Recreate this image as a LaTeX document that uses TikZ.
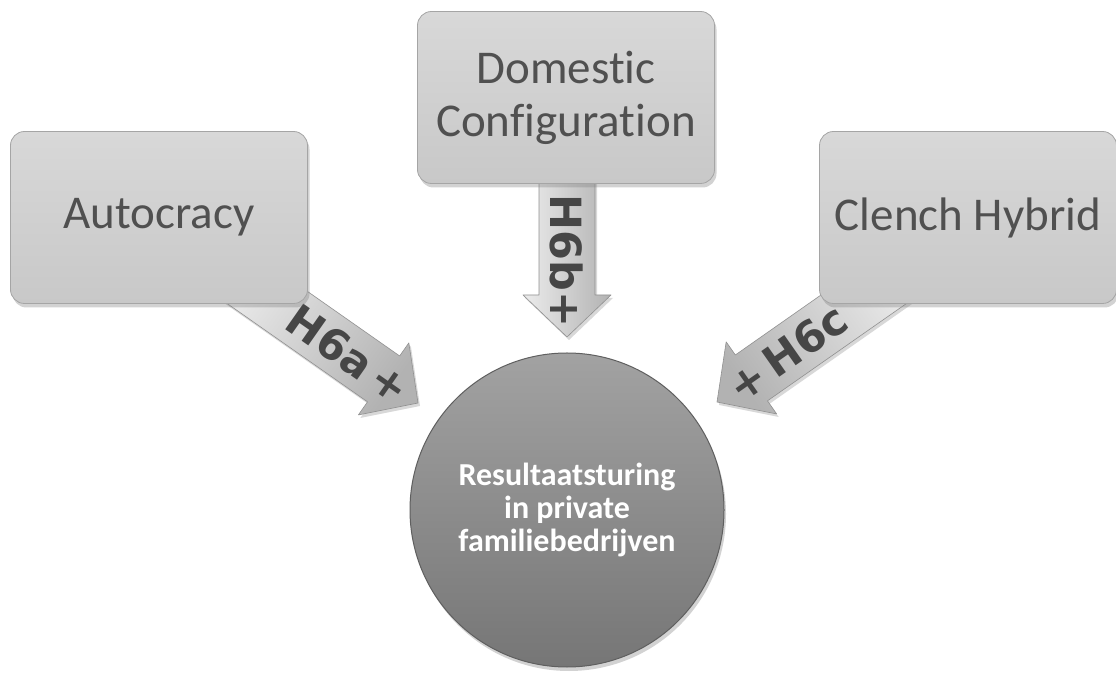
\documentclass[tikz,border=0pt]{standalone}
\usepackage{fontspec}
\setmainfont{Carlito}[Ligatures={NoCommon,NoContextual}]
\newfontfamily\lblfont{DejaVu Sans}
\usetikzlibrary{shadows}
\definecolor{txtgray}{RGB}{80,80,80}
\definecolor{lblgray}{RGB}{70,70,70}
\definecolor{boxtop}{RGB}{216,216,216}
\definecolor{boxbot}{RGB}{200,200,200}
\definecolor{boxedge}{RGB}{165,165,165}
\definecolor{circtop}{RGB}{162,162,162}
\definecolor{circbot}{RGB}{118,118,118}
\definecolor{circedge}{RGB}{95,95,95}
\definecolor{arrlight}{RGB}{236,236,236}
\definecolor{arrdark}{RGB}{178,178,178}
\definecolor{arredge}{RGB}{145,145,145}
\newcommand{\blkarrow}[7]{%
  \begin{scope}[shift={(#1)}, rotate=#2]
    \path[blockarrow, shading angle=#7]
      (-#3,28) -- (-42,28) -- (-42,44) -- (0,0) -- (-42,-44) -- (-42,-28) -- (-#3,-28) -- cycle;
    \node[arrowlabel, rotate=#6] at (-#5,0) {#4};
  \end{scope}}
\begin{document}
\begin{tikzpicture}[x=1pt,y=1pt,
  textbox/.style={rectangle, rounded corners=14pt, minimum width=297pt, minimum height=172pt,
    top color=boxtop, bottom color=boxbot, draw=boxedge, line width=0.8pt,
    drop shadow={opacity=0.35, shadow xshift=2pt, shadow yshift=-4pt},
    font=\fontsize{47}{53}\selectfont, text=txtgray, align=center, inner sep=0pt},
  target/.style={circle, minimum size=314pt, inner sep=0pt,
    top color=circtop, bottom color=circbot, draw=circedge, line width=1pt,
    drop shadow={opacity=0.35, shadow xshift=2pt, shadow yshift=-4pt},
    font=\bfseries\fontsize{32}{33}\selectfont, text=white, align=center},
  blockarrow/.style={shading=axis, top color=arrlight, bottom color=arrdark,
    draw=arredge, line width=0.6pt, line join=round,
    drop shadow={opacity=0.3, shadow xshift=2pt, shadow yshift=-3pt}},
  arrowlabel/.style={font=\lblfont\bfseries\fontsize{43}{43}\selectfont, text=lblgray, inner sep=0pt}
]
\fill[white] (0,0) rectangle (1116,672);
\useasboundingbox (0,0) rectangle (1116,672);

% arrow tips
\coordinate (tA) at (418,269);
\coordinate (tB) at (567,335);
\coordinate (tC) at (717,270);

% block arrows (drawn first, boxes cover their tails)
\blkarrow{tA}{-35}{230}{H6a\,+}{85}{-35}{55}
\blkarrow{tB}{-90}{185}{H6b+}{76}{-90}{90}
\blkarrow{tC}{215}{230}{+\,H6c}{86}{35}{-55}

% boxes
\node[textbox] (auto) at (159,454.5) {Autocracy};
\node[textbox] (dom) at (566,574.5) {Domestic\\Configuration};
\node[textbox] (clench) at (968,454.5) {Clench Hybrid};

% target circle
\node[target] (res) at (567,162) {Resultaatsturing\\in private\\familiebedrijven};
\end{tikzpicture}
\end{document}
